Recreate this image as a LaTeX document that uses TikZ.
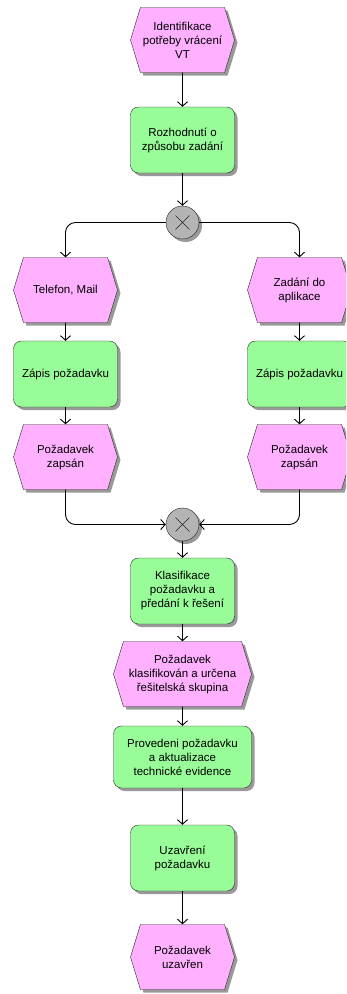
\documentclass[tikz,border=0pt]{standalone}
\usepackage{fontspec}
\setmainfont{Liberation Sans}
\usetikzlibrary{arrows.meta}
\usetikzlibrary{shapes.symbols,shadows}

\definecolor{evpink}{HTML}{FFB0FF}
\definecolor{fngreen}{HTML}{98FC98}
\definecolor{xorgray}{HTML}{B4B4B4}

\begin{document}
\begin{tikzpicture}[x=1pt, y=-1pt,
  font=\fontsize{11.5}{14}\selectfont,
  >={Straight Barb[length=4.5pt,width=10pt]},
  shade/.style={drop shadow={shadow xshift=3pt, shadow yshift=-3pt, fill=black!40, opacity=1}},
  event/.style={shape=signal, signal to=east and west, signal pointer angle=146,
    draw=black!85, fill=evpink, shade, align=center, inner sep=1pt,
    minimum width=104pt, minimum height=65pt},
  func/.style={rectangle, rounded corners=8pt, draw=black!85, fill=fngreen, shade,
    align=center, minimum width=104pt, minimum height=66pt},
  xor/.style={circle, draw=black!85, fill=xorgray, shade, minimum size=33pt, inner sep=0pt,
    path picture={\draw[black!85] ([shift={(-7pt,-7pt)}]path picture bounding box.center) -- ++(14pt,14pt)
      ([shift={(-7pt,7pt)}]path picture bounding box.center) -- ++(14pt,-14pt);}},
  flow/.style={->, black, line width=0.9pt, rounded corners=10pt}]
\useasboundingbox (0,0) rectangle (346,994);
\clip (0,0) rectangle (346,994);

% hlavni vetev
\node[event] (idvt) at (182.5,40) {Identifikace\\potřeby vrácení\\VT};
\node[func] (rozh) at (182.5,140) {Rozhodnutí o\\způsobu zadání};
\node[xor] (xsplit) at (182.5,222.5) {};

% leva vetev
\node[event] (tel) at (65.5,290) {Telefon, Mail};
\node[func] (zapisL) at (65.5,374) {Zápis požadavku};
\node[event] (zapsanL) at (65.5,457) {Požadavek\\zapsán};

% prava vetev
\node[event] (apl) at (299.5,290) {Zadání do\\aplikace};
\node[func] (zapisR) at (299.5,374) {Zápis požadavku};
\node[event] (zapsanR) at (299.5,457) {Požadavek\\zapsán};

\node[xor] (xjoin) at (182.5,524.5) {};
\node[func] (klas) at (182.5,591) {Klasifikace\\požadavku a\\předání k řešení};
\node[event, minimum width=138pt] (urcena) at (182.5,674) {Požadavek\\klasifikován a určena\\řešitelská skupina};
\node[func, minimum width=138pt, minimum height=62pt] (proved) at (182.5,757) {Provedeni požadavku\\a aktualizace\\technické evidence};
\node[func] (uzavr) at (182.5,858) {Uzavření\\požadavku};
\node[event] (uzavren) at (182.5,957) {Požadavek\\uzavřen};

\draw[flow] (idvt) -- (rozh);
\draw[flow] (rozh) -- (xsplit);
\draw[flow] (xsplit.west) -| (tel.north);
\draw[flow] (xsplit.east) -| (apl.north);
\draw[flow] (tel) -- (zapisL);
\draw[flow] (zapisL) -- (zapsanL);
\draw[flow] (apl) -- (zapisR);
\draw[flow] (zapisR) -- (zapsanR);
\draw[flow] (zapsanL.south) |- (xjoin.west);
\draw[flow] (zapsanR.south) |- (xjoin.east);
\draw[flow] (xjoin) -- (klas);
\draw[flow] (klas) -- (urcena);
\draw[flow] (urcena) -- (proved);
\draw[flow] (proved) -- (uzavr);
\draw[flow] (uzavr) -- (uzavren);
\end{tikzpicture}
\end{document}
